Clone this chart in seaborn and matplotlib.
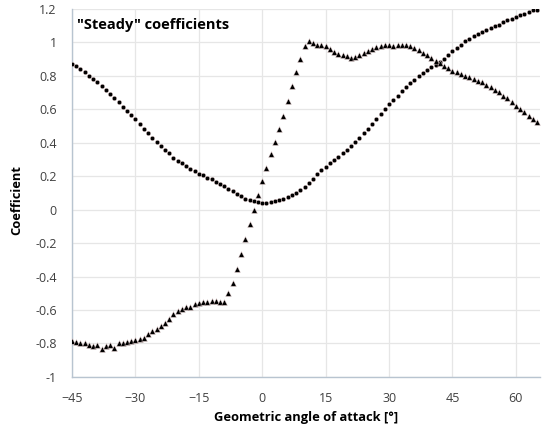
import numpy as np
import pandas as pd
import matplotlib
matplotlib.use("Agg")
import matplotlib.pyplot as plt
import seaborn as sns

# Angle of attack (deg), one point per degree
angles = list(range(-45, 66))

# Circle series
circle_values = [
    0.87, 0.86, 0.84, 0.82, 0.80, 0.78, 0.76, 0.74, 0.715, 0.69,
    0.665, 0.64, 0.615, 0.59, 0.565, 0.54, 0.51, 0.48, 0.455, 0.43,
    0.405, 0.38, 0.355, 0.335, 0.31, 0.29, 0.275, 0.26, 0.245, 0.23,
    0.215, 0.205, 0.19, 0.18, 0.165, 0.155, 0.14, 0.125, 0.11, 0.095,
    0.08, 0.065, 0.055, 0.048, 0.043, 0.04,
    0.042, 0.045, 0.05, 0.056, 0.064, 0.072, 0.084, 0.098, 0.115, 0.135,
    0.16, 0.185, 0.21, 0.235, 0.255, 0.275, 0.295, 0.315, 0.335, 0.355,
    0.38, 0.405, 0.43, 0.455, 0.48, 0.51, 0.54, 0.57, 0.60, 0.63,
    0.655, 0.68, 0.705, 0.73, 0.755, 0.775, 0.795, 0.815, 0.835, 0.85,
    0.865, 0.88, 0.90, 0.92, 0.945, 0.965, 0.985, 1.005, 1.02, 1.035,
    1.05, 1.06, 1.075, 1.085, 1.095, 1.105, 1.12, 1.13, 1.14, 1.15,
    1.16, 1.17, 1.18, 1.19, 1.19,
]

# Triangle series
triangle_values = [
    -0.785, -0.79, -0.795, -0.80, -0.81, -0.815, -0.81, -0.83, -0.815, -0.81,
    -0.825, -0.795, -0.80, -0.79, -0.785, -0.78, -0.775, -0.765, -0.745, -0.725,
    -0.715, -0.695, -0.675, -0.655, -0.625, -0.605, -0.595, -0.585, -0.58, -0.565,
    -0.56, -0.555, -0.55, -0.548, -0.545, -0.555, -0.555, -0.50, -0.44, -0.355,
    -0.265, -0.175, -0.085, 0.0, 0.085, 0.17,
    0.25, 0.33, 0.405, 0.48, 0.56, 0.65, 0.74, 0.82, 0.90, 0.975,
    1.005, 0.995, 0.985, 0.98, 0.975, 0.96, 0.94, 0.93, 0.925, 0.915,
    0.905, 0.91, 0.925, 0.935, 0.945, 0.96, 0.97, 0.975, 0.98, 0.98,
    0.975, 0.98, 0.985, 0.98, 0.975, 0.965, 0.95, 0.935, 0.92, 0.905,
    0.89, 0.875, 0.86, 0.845, 0.83, 0.82, 0.81, 0.80, 0.79, 0.78,
    0.77, 0.76, 0.745, 0.73, 0.715, 0.70, 0.68, 0.665, 0.645, 0.62,
    0.60, 0.58, 0.56, 0.54, 0.52,
]

x_ticks = [-45, -30, -15, 0, 15, 30, 45, 60]
y_ticks = [-1, -0.8, -0.6, -0.4, -0.2, 0, 0.2, 0.4, 0.6, 0.8, 1, 1.2]
y_tick_labels = ["-1", "-0.8", "-0.6", "-0.4", "-0.2", "0", "0.2", "0.4", "0.6", "0.8", "1", "1.2"]

title_text = '"Steady" coefficients'
x_label = "Geometric angle of attack [°]"
y_label = "Coefficient"

df_c = pd.DataFrame({"angle": angles, "coef": circle_values})
df_t = pd.DataFrame({"angle": angles, "coef": triangle_values})

sns.set_theme(style="white")
plt.rcParams["font.family"] = ["Open Sans", "DejaVu Sans"]

fig = plt.figure(figsize=(5.43, 4.30), dpi=100)
ax = fig.add_axes([0.1326, 0.1233, 0.8619, 0.8567])

sns.scatterplot(data=df_c, x="angle", y="coef", marker="o", s=10, color="black",
                edgecolor="#e8d0d0", linewidth=0.3, ax=ax, zorder=3)
sns.scatterplot(data=df_t, x="angle", y="coef", marker="^", s=17, color="black",
                edgecolor="#e8d0d0", linewidth=0.3, ax=ax, zorder=3)

ax.set_xlim(-45, 65.7)
ax.set_ylim(-1, 1.2)
ax.set_xticks(x_ticks)
ax.set_yticks(y_ticks)
ax.set_yticklabels(y_tick_labels)

ax.grid(True, color="#e6e6e6", linewidth=0.9)
ax.set_axisbelow(True)
for side in ["top", "right"]:
    ax.spines[side].set_visible(False)
for side in ["left", "bottom"]:
    ax.spines[side].set_color("#b8c4d0")
    ax.spines[side].set_linewidth(1.0)

ax.tick_params(axis="both", direction="out", length=3, width=0.8, color="#b8c4d0",
               labelsize=9, labelcolor="#404040")
ax.tick_params(axis="y", pad=8)
ax.tick_params(axis="x", pad=8)

ax.set_xlabel(x_label, fontsize=9.3, fontweight="bold", color="black", labelpad=4)
ax.set_ylabel(y_label, fontsize=9.3, fontweight="bold", color="black")
ax.yaxis.set_label_coords(-0.105, 0.48)

ax.text(-43.8, 1.10, title_text, fontsize=10.5, fontweight="bold", color="black",
        ha="left", va="center")

fig.savefig("out.png", dpi=100)
